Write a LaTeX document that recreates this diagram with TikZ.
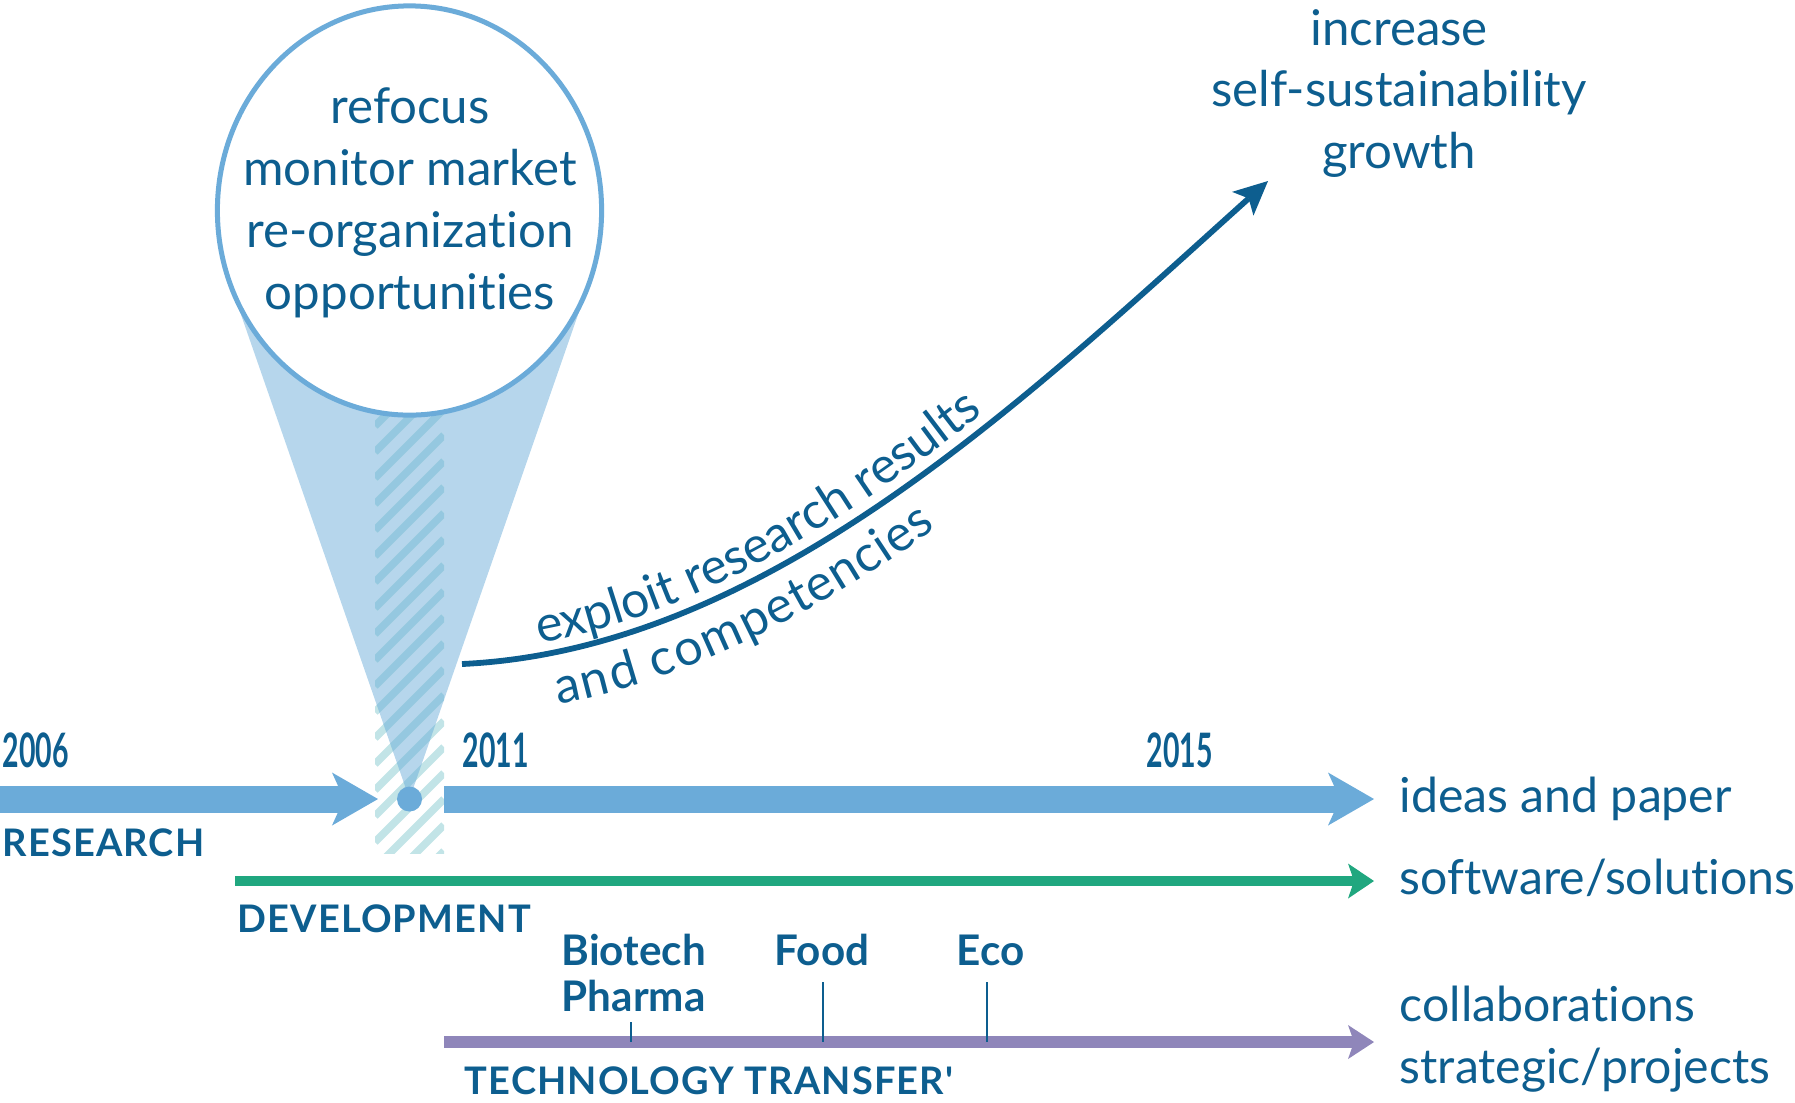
\documentclass[tikz,border=0pt]{standalone}
\usepackage{fontspec}
\setmainfont{Lato}[Ligatures=NoCommon]
\newfontfamily\yearfont[FakeStretch=0.6]{Lato}
\newfontfamily\capsfont[LetterSpace=3]{Lato}
\usetikzlibrary{arrows.meta,decorations.text,shapes.geometric}

\definecolor{inkblue}{RGB}{13,94,143}
\definecolor{lineblue}{RGB}{107,171,217}
\definecolor{conefill}{RGB}{182,214,236}
\definecolor{hatchlight}{RGB}{194,228,231}
\definecolor{hatchdark}{RGB}{149,200,224}
\definecolor{devgreen}{RGB}{32,167,127}
\definecolor{techpurple}{RGB}{143,134,186}

\begin{document}
\begin{tikzpicture}
	[
		x=0.01cm, y=0.01cm,
		txt/.style = {text=inkblue, inner sep=0pt, font=\fontsize{14}{17.6}\selectfont},
		yeartxt/.style = {text=inkblue, inner sep=0pt, anchor=west, font=\yearfont\bfseries\fontsize{13.5}{16}\selectfont},
		phasetxt/.style = {text=inkblue, inner sep=0pt, anchor=west, font=\capsfont\bfseries\fontsize{10.8}{13}\selectfont},
		fieldtxt/.style = {text=inkblue, inner sep=0pt, anchor=west, align=left, font=\bfseries\fontsize{12}{13}\selectfont},
		outtxt/.style = {txt, anchor=west, align=left, font=\fontsize{13.7}{17.6}\selectfont},
		hatch/.style = {line width=0.075cm},
		tick/.style = {draw=inkblue, line width=0.025cm},
		research/.style = {draw=lineblue, line width=0.27cm, -{Stealth[length=0.46cm, width=0.53cm, inset=0.12cm, line width=0pt]}},
		develop/.style = {draw=devgreen, line width=0.1cm, -{Stealth[length=0.26cm, width=0.35cm, inset=0.06cm, line width=0pt]}},
		transfer/.style = {draw=techpurple, line width=0.12cm, -{Stealth[length=0.26cm, width=0.34cm, inset=0.06cm, line width=0pt]}},
		growth/.style = {draw=inkblue, line width=0.058cm, -{Stealth[length=0.34cm, width=0.32cm, inset=0.08cm, line width=0pt]}}
	]
	
	\useasboundingbox (0,0) rectangle (1795,-1102);
	
	\fill[conefill] (409.5,-799) -- (229.5,-281.6) -- (589.5,-281.6) -- cycle;
	
	\begin{scope}
		\clip (375,-400) rectangle (444,-853);
		\foreach \k in {0,...,21}
			\draw[hatch, hatchlight] (375,{-400-\k*26}) -- ++(69,69);
	\end{scope}
	\begin{scope}
		\clip (375,-400) rectangle (444,-853);
		\clip (409.5,-799) -- (229.5,-281.6) -- (589.5,-281.6) -- cycle;
		\foreach \k in {0,...,21}
			\draw[hatch, hatchdark] (375,{-400-\k*26}) -- ++(69,69);
	\end{scope}
	
	\coordinate (r1start) at (0,-799);
	\coordinate (r1end) at (378,-799);
	\coordinate (r2start) at (444,-799);
	\coordinate (r2end) at (1374,-799);
	\coordinate (dstart) at (235,-881);
	\coordinate (dend) at (1374,-881);
	\coordinate (tstart) at (444,-1042);
	\coordinate (tend) at (1374,-1042);
	
	\draw[research] (r1start) -- (r1end);
	\draw[research] (r2start) -- (r2end);
	\draw[develop] (dstart) -- (dend);
	\draw[transfer] (tstart) -- (tend);
	
	\draw[tick] (631,-1022) -- (631,-1042);
	\draw[tick] (823,-982) -- (823,-1042);
	\draw[tick] (987,-982) -- (987,-1042);
	
	\node [ellipse, draw=lineblue, line width=0.05cm, fill=white, minimum width=3.84cm, minimum height=4.09cm, inner sep=0pt] (bubble) at (409.5,-210.5) {};
	\node [circle, fill=lineblue, minimum size=0.25cm, inner sep=0pt] (dot) at (409.5,-799) {};
	
	\node [txt, align=center] (bubbletxt) at (410,-202.5) {refocus\\monitor market\\re-organization\\opportunities};
	\node [txt, align=center] (goal) at (1399,-93.5) {increase\\self-sustainability\\growth};
	
	\coordinate (cstart) at (462,-664);
	\coordinate (ctip) at (1268,-181);
	\draw[growth] (cstart) .. controls (762,-650) and (1018,-406) .. (ctip);
	\path[decorate, decoration={text along path, raise=0.12cm, text align={left indent=0.8cm},
		text={|\color{inkblue}\fontsize{14.3}{17}\selectfont|exploit research results}}]
		(cstart) .. controls (762,-650) and (1018,-406) .. (ctip);
	\path[decorate, decoration={text along path, raise=-0.52cm, text align={left indent=0.86cm},
		text={|\color{inkblue}\fontsize{14.3}{17}\selectfont|and competencies}}]
		(cstart) .. controls (762,-650) and (1018,-406) .. (ctip);
	
	\node [yeartxt] (y2006) at (2,-750) {2006};
	\node [yeartxt] (y2011) at (462,-750) {2011};
	\node [yeartxt] (y2015) at (1146,-750) {2015};
	
	\node [phasetxt] (research) at (2,-843) {RESEARCH};
	\node [phasetxt] (development) at (237,-919) {DEVELOPMENT};
	\node [phasetxt] (transfer) at (464,-1081) {TECHNOLOGY TRANSFER'};
	
	\node [fieldtxt] (biotech) at (561,-973) {Biotech\\Pharma};
	\node [fieldtxt] (food) at (774,-950) {Food};
	\node [fieldtxt] (eco) at (956,-950) {Eco};
	
	\node [outtxt] (ideas) at (1399,-799) {ideas and paper};
	\node [outtxt] (software) at (1399,-878) {software/solutions};
	\node [outtxt] (collab) at (1399,-1039) {collaborations\\strategic/projects};
	
\end{tikzpicture}
\end{document}
